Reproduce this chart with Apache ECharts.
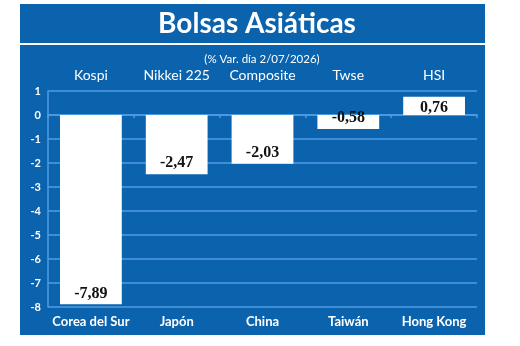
<!DOCTYPE html>
<html>
<head>
<meta charset="utf-8">
<style>
  html, body { margin: 0; padding: 0; background: #fff; }
  #chart { width: 520px; height: 346px; }
</style>
<script src="https://cdn.jsdelivr.net/npm/echarts@6/dist/echarts.min.js"></script>
</head>
<body>
<div id="chart"></div>
<script>
// datos del gráfico
const countries = ['Corea del Sur', 'Japón', 'China', 'Taiwán', 'Hong Kong']
const indices = ['Kospi', 'Nikkei 225', 'Composite', 'Twse', 'HSI']
const variation = [-7.89, -2.47, -2.03, -0.58, 0.76]

const panelBlue = '#0b63ae'
const lineBlue = '#4f9ce2'

const chart = echarts.init(document.getElementById('chart'))

chart.setOption({
  animation: false,
  backgroundColor: '#fff',
  graphic: [
    { type: 'rect', shape: { x: 20, y: 4, width: 465, height: 39 }, style: { fill: panelBlue }, z: -10 },
    { type: 'rect', shape: { x: 20, y: 45, width: 465, height: 290 }, style: { fill: panelBlue }, z: -10 }
  ],
  title: [{
    text: 'Bolsas Asiáticas',
    left: 252,
    top: 5,
    textAlign: 'center',
    textStyle: { color: '#fff', fontFamily: 'Lato', fontWeight: 'bold', fontSize: 28 }
  }, {
    text: '(% Var. día 2/07/2026)',
    left: 257,
    top: 48,
    textAlign: 'center',
    textStyle: { color: '#fff', fontFamily: 'Lato', fontWeight: 'normal', fontSize: 11.5 }
  }],
  grid: {
    left: 48,
    right: 43,
    top: 91,
    bottom: 39
  },
  xAxis: [{
    type: 'category',
    data: countries,
    position: 'bottom',
    axisLine: { show: false, onZero: false },
    axisTick: { show: false },
    axisLabel: { interval: 0, color: '#fff', fontFamily: 'Lato', fontWeight: 'bold', fontSize: 13, margin: 8 }
  }, {
    type: 'category',
    data: indices,
    position: 'top',
    axisLine: { show: false, onZero: false },
    axisTick: { show: false },
    axisLabel: { interval: 0, color: '#fff', fontFamily: 'Lato', fontSize: 14, margin: 9 }
  }, {
    type: 'category',
    data: countries,
    position: 'bottom',
    axisLine: { show: true, onZero: true, lineStyle: { color: lineBlue, width: 1.5 } },
    axisTick: { show: true, interval: 0, length: 3, lineStyle: { color: lineBlue, width: 1.5 } },
    axisLabel: { show: false }
  }],
  yAxis: {
    type: 'value',
    min: -8,
    max: 1,
    interval: 1,
    axisLine: { show: true, lineStyle: { color: lineBlue, width: 1.5 } },
    axisTick: { show: false },
    axisLabel: { color: '#fff', fontFamily: 'Lato', fontWeight: 'bold', fontSize: 11, margin: 7 },
    splitLine: { lineStyle: { color: lineBlue, width: 1.5 } }
  },
  series: [{
    type: 'bar',
    xAxisIndex: 0,
    barWidth: '72%',
    itemStyle: { color: '#fff' },
    data: variation.map(v => ({
      value: v,
      label: { position: v < 0 ? 'insideBottom' : 'insideTop' }
    })),
    label: {
      show: true,
      distance: 3,
      color: '#111',
      fontFamily: 'Liberation Serif',
      fontWeight: 'bold',
      fontSize: 16,
      formatter: p => p.value.toFixed(2).replace('.', ',')
    }
  }]
})
</script>
</body>
</html>
